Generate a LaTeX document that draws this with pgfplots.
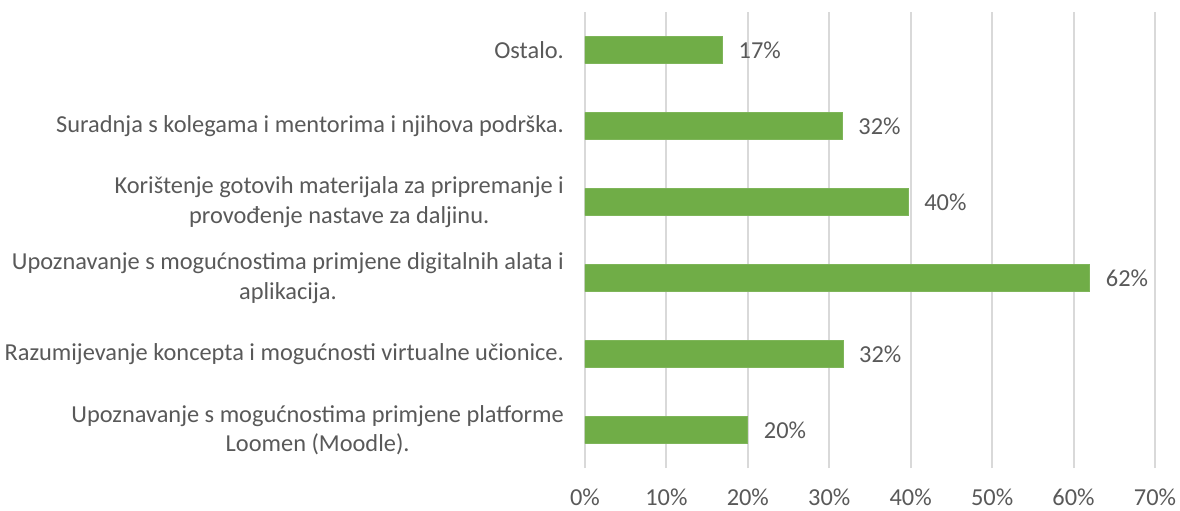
\documentclass[border=0pt]{standalone}
\usepackage{fontspec}
\setmainfont{Carlito}
\usepackage{pgfplots}
\pgfplotsset{compat=1.18}
\definecolor{bargreen}{HTML}{70AD47}
\definecolor{gridgray}{HTML}{D9D9D9}
\definecolor{txtgray}{HTML}{595959}
\newcommand{\lblfont}{\fontsize{9.75pt}{11.8pt}\selectfont}
\begin{document}
\lblfont
\begin{tikzpicture}
\begin{axis}[
    at={(0,0)}, anchor=south west,
    xbar,
    scale only axis,
    width=228pt,
    height=182.4pt,
    bar width=10.7pt,
    xmin=0, xmax=70,
    ymin=-0.5, ymax=5.5,
    xtick={0,10,...,70},
    xticklabel={\pgfmathprintnumber{\tick}\%},
    ytick={0,...,5},
    yticklabels={
        {Upoznavanje s mogućnostima primjene platforme\\Loomen (Moodle).},
        {Razumijevanje koncepta i mogućnosti virtualne učionice.},
        {Upoznavanje s mogućnostima primjene digitalnih alata i\\aplikacija.},
        {Korištenje gotovih materijala za pripremanje i\\provođenje nastave za daljinu.},
        {Suradnja s kolegama i mentorima i njihova podrška.},
        {Ostalo.}},
    /pgf/number format/assume math mode=true,
    yticklabel style={align=center, font=\lblfont, text=txtgray, xshift=-5pt},
    xticklabel style={font=\lblfont, text=txtgray, yshift=-5pt},
    major tick length=0pt,
    axis line style={draw=none},
    xmajorgrids,
    major grid style={gridgray, line width=0.8pt},
    nodes near coords={\pgfmathprintnumber[fixed,precision=0]{\pgfplotspointmeta}\%},
    nodes near coords style={font=\lblfont, text=txtgray, xshift=3pt},
]
\addplot[fill=bargreen, draw=bargreen!90!white] coordinates {
    (20.0,0) (31.7,1) (62.0,2) (39.7,3) (31.6,4) (16.9,5)};
\end{axis}
\pgfresetboundingbox
\useasboundingbox (-234pt,-16.8pt) rectangle (238pt,187.2pt);
\end{tikzpicture}
\end{document}
